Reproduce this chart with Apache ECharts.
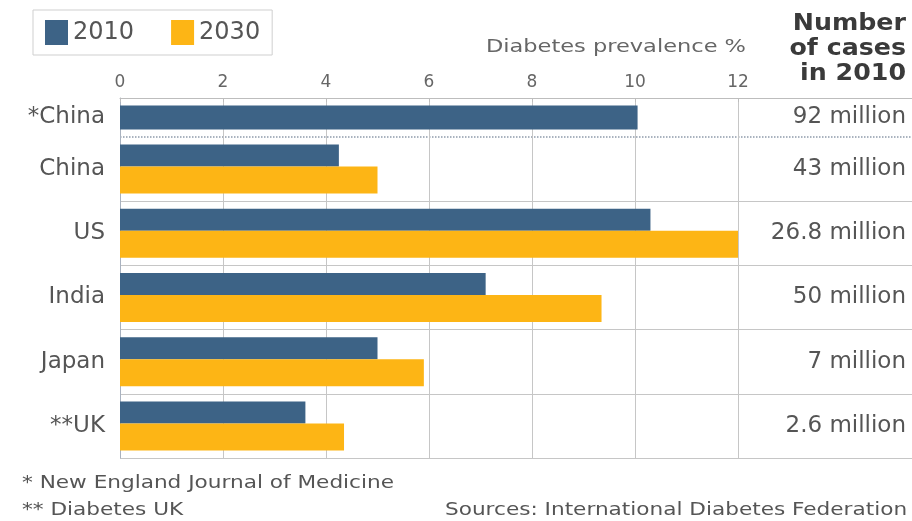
<!DOCTYPE html>
<html><head><meta charset="utf-8">
<script src="https://cdn.jsdelivr.net/npm/echarts@6/dist/echarts.min.js"></script>
<style>html,body{margin:0;padding:0;background:#fff}#c{width:912px;height:521px}</style>
</head><body><div id="c"></div>
<script>
const categories = ['*China', 'China', 'US', 'India', 'Japan', '**UK'];
const values2010 = [10.05, 4.25, 10.3, 7.1, 5.0, 3.6];
const values2030 = [null, 5.0, 12.0, 9.35, 5.9, 4.35];
const cases2010 = ['92 million', '43 million', '26.8 million', '50 million', '7 million', '2.6 million'];
const seriesNames = ['2010', '2030'];
const xMin = 0, xMax = 12, xStep = 2;
const axisTitle = 'Diabetes prevalence %';
const columnTitle = 'Number\nof cases\nin 2010';
const footnotes = ['* New England Journal of Medicine', '** Diabetes UK'];
const sourceText = 'Sources: International Diabetes Federation';

const FF = '"DejaVu Sans", Verdana, sans-serif';
const BLUE = '#3d6386';
const GOLD = '#fdb515';
const GRID = '#c6c6c6';
const DOT = '#8e9aab';
const NONE = 'rgba(0,0,0,0)';
const rest = categories.length - 1;

const chart = echarts.init(document.getElementById('c'), null, {renderer: 'canvas'});
chart.setOption({
  animation: false,
  textStyle: {fontFamily: FF},
  grid: [
    {left: 120, top: 98, width: 618, height: 39},
    {left: 120, top: 137, width: 618, height: 321},
    {left: 738, top: 98, width: 174, height: 39},
    {left: 738, top: 137, width: 174, height: 321}
  ],
  legend: {
    left: 33, top: 10, data: seriesNames, icon: 'rect',
    itemWidth: 23, itemHeight: 25, itemGap: 37, padding: [10, 12],
    borderColor: '#cfcfcf', borderWidth: 1, backgroundColor: '#fff',
    selectedMode: false,
    textStyle: {fontSize: 24, color: '#555', fontFamily: FF}
  },
  xAxis: [
    {gridIndex: 0, type: 'value', min: xMin, max: xMax, interval: xStep, position: 'top',
     axisLine: {show: true, lineStyle: {color: '#bdbdbd'}},
     axisTick: {show: true, inside: true, length: 4, lineStyle: {color: '#bdbdbd'}},
     axisLabel: {color: '#666', fontSize: 17, margin: 7, fontFamily: FF},
     splitLine: {show: true, lineStyle: {color: GRID}}},
    {gridIndex: 1, type: 'value', min: xMin, max: xMax, interval: xStep, position: 'top',
     axisLine: {show: false}, axisTick: {show: false}, axisLabel: {show: false},
     splitLine: {show: true, lineStyle: {color: GRID}}},
    {gridIndex: 2, type: 'value', min: 0, max: 1, position: 'top',
     axisLine: {show: true, lineStyle: {color: '#bdbdbd'}}, axisTick: {show: false},
     axisLabel: {show: false}, splitLine: {show: false}},
    {gridIndex: 3, type: 'value', min: 0, max: 1, position: 'top',
     axisLine: {show: false}, axisTick: {show: false},
     axisLabel: {show: false}, splitLine: {show: false}}
  ],
  yAxis: [
    {gridIndex: 0, type: 'category', data: categories.slice(0, 1), inverse: true,
     axisLine: {show: true, lineStyle: {color: '#a9b2bf'}}, axisTick: {show: false},
     axisLabel: {fontSize: 23, color: '#555', margin: 15, fontFamily: FF},
     splitLine: {show: true, lineStyle: {color: [NONE, DOT], type: 'dotted', width: 1.5}}},
    {gridIndex: 1, type: 'category', data: categories.slice(1), inverse: true,
     axisLine: {show: true, lineStyle: {color: '#a9b2bf'}}, axisTick: {show: false},
     axisLabel: {fontSize: 23, color: '#555', margin: 15, fontFamily: FF},
     splitLine: {show: true, lineStyle: {color: [NONE].concat(Array(rest).fill(GRID))}}},
    {gridIndex: 2, type: 'category', data: cases2010.slice(0, 1), inverse: true, position: 'right',
     axisLine: {show: false}, axisTick: {show: false},
     axisLabel: {inside: true, margin: 6, fontSize: 23, color: '#555', fontFamily: FF},
     splitLine: {show: true, lineStyle: {color: [NONE, DOT], type: 'dotted', width: 1.5}}},
    {gridIndex: 3, type: 'category', data: cases2010.slice(1), inverse: true, position: 'right',
     axisLine: {show: false}, axisTick: {show: false},
     axisLabel: {inside: true, margin: 6, fontSize: 23, color: '#555', fontFamily: FF},
     splitLine: {show: true, lineStyle: {color: [NONE].concat(Array(rest).fill(GRID))}}}
  ],
  series: [
    {type: 'bar', name: seriesNames[0], xAxisIndex: 0, yAxisIndex: 0,
     data: values2010.slice(0, 1), barWidth: 24, itemStyle: {color: BLUE}},
    {type: 'bar', name: seriesNames[0], xAxisIndex: 1, yAxisIndex: 1,
     data: values2010.slice(1), barWidth: 22, barGap: 0, itemStyle: {color: BLUE}},
    {type: 'bar', name: seriesNames[1], xAxisIndex: 1, yAxisIndex: 1,
     data: values2030.slice(1), barWidth: 27, barGap: 0, itemStyle: {color: GOLD}}
  ],
  graphic: [
    {type: 'text', x: 746, y: 47, scaleX: 1.25, style: {text: axisTitle, textAlign: 'right', textVerticalAlign: 'middle',
      fontSize: 18, fontFamily: FF, fill: '#666'}},
    {type: 'text', x: 906, y: 12, scaleX: 1.1, style: {text: columnTitle, textAlign: 'right', textVerticalAlign: 'top',
      fontSize: 23, fontWeight: 'bold', lineHeight: 25, fontFamily: FF, fill: '#3a3a3a'}},
    {type: 'text', x: 22, y: 483, scaleX: 1.2, style: {text: footnotes[0], textAlign: 'left', textVerticalAlign: 'middle',
      fontSize: 18, fontFamily: FF, fill: '#555'}},
    {type: 'text', x: 22, y: 510, scaleX: 1.2, style: {text: footnotes[1], textAlign: 'left', textVerticalAlign: 'middle',
      fontSize: 18, fontFamily: FF, fill: '#555'}},
    {type: 'text', x: 445, y: 510, scaleX: 1.2, style: {text: sourceText, textAlign: 'left', textVerticalAlign: 'middle',
      fontSize: 18, fontFamily: FF, fill: '#555'}}
  ]
});
</script>
</body></html>
